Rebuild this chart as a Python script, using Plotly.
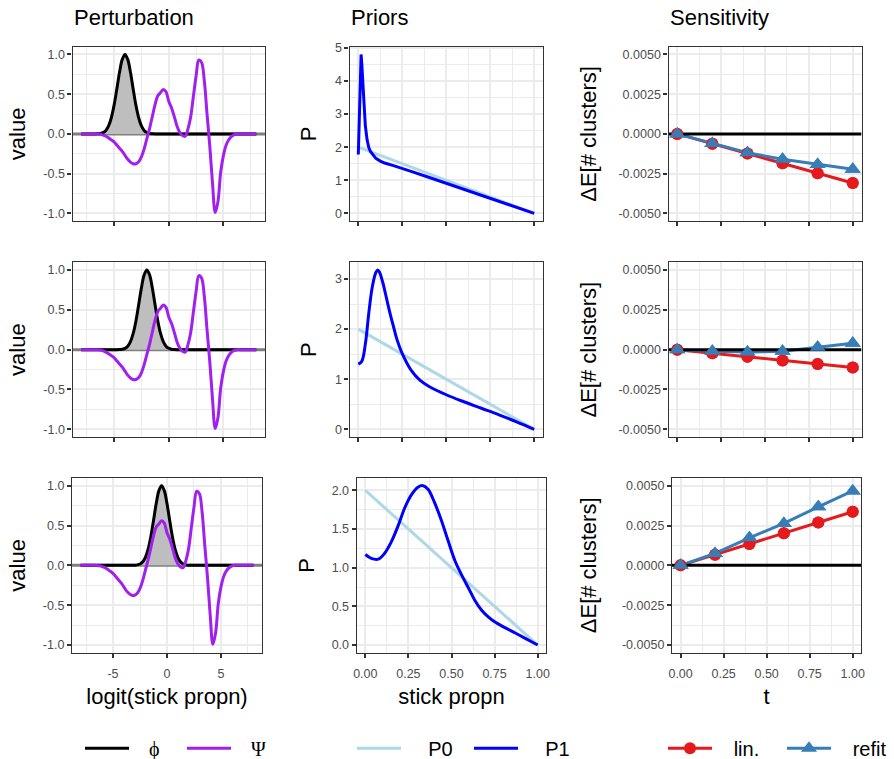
import plotly.graph_objects as go

W, H = 894, 759
FONT = "Liberation Sans, Arial, Helvetica, sans-serif"
SERIF = "Liberation Serif, DejaVu Serif, serif"

# ---------------- data: Perturbation column ----------------
logit_x = [-8.0, -7.75, -7.5, -7.25, -7.0, -6.75, -6.5, -6.25, -6.0, -5.75, -5.5, -5.25,
           -5.0, -4.75, -4.5, -4.25, -4.0, -3.75, -3.5, -3.25, -3.0, -2.75, -2.5, -2.25,
           -2.0, -1.75, -1.5, -1.25, -1.0, -0.75, -0.5, -0.25, 0.0, 0.25, 0.5, 0.75,
           1.0, 1.25, 1.5, 1.75, 2.0, 2.25, 2.5, 2.75, 3.0, 3.25, 3.5, 3.75,
           4.0, 4.25, 4.5, 4.75, 5.0, 5.25, 5.5, 5.75, 6.0, 6.25, 6.5, 6.75,
           7.0, 7.25, 7.5, 7.75, 8.0]
psi = [0, 0, 0, 0, 0, 0, -0.002, -0.006, -0.015, -0.03, -0.05, -0.075,
       -0.10, -0.14, -0.18, -0.22, -0.27, -0.32, -0.355, -0.375, -0.375, -0.35, -0.29, -0.19,
       -0.06, 0.07, 0.22, 0.37, 0.48, 0.52, 0.56, 0.53, 0.41, 0.33, 0.22, 0.10,
       0.02, -0.02, -0.03, 0.06, 0.21, 0.47, 0.73, 0.93, 0.90, 0.67, 0.25, -0.15,
       -0.62, -0.99, -0.85, -0.48, -0.27, -0.14, -0.07, -0.03, -0.01, 0, 0, 0,
       0, 0, 0, 0, 0]
phi_row1 = [0, 0, 0, 0, 0, 0, 0.002, 0.006, 0.017, 0.044, 0.101, 0.203,
            0.360, 0.563, 0.775, 0.938, 1.0, 0.938, 0.775, 0.563, 0.360, 0.203, 0.101, 0.044,
            0.017, 0.006, 0.002, 0, 0, 0, 0, 0, 0, 0, 0, 0,
            0, 0, 0, 0, 0, 0, 0, 0, 0, 0, 0, 0,
            0, 0, 0, 0, 0, 0, 0, 0, 0, 0, 0, 0,
            0, 0, 0, 0, 0]
phi_row2 = [0, 0, 0, 0, 0, 0, 0, 0, 0, 0, 0, 0,
            0, 0, 0.002, 0.006, 0.017, 0.044, 0.101, 0.203, 0.360, 0.563, 0.775, 0.938,
            1.0, 0.938, 0.775, 0.563, 0.360, 0.203, 0.101, 0.044, 0.017, 0.006, 0.002, 0,
            0, 0, 0, 0, 0, 0, 0, 0, 0, 0, 0, 0,
            0, 0, 0, 0, 0, 0, 0, 0, 0, 0, 0, 0,
            0, 0, 0, 0, 0]
phi_row3 = [0, 0, 0, 0, 0, 0, 0, 0, 0, 0, 0, 0,
            0, 0, 0, 0, 0, 0, 0, 0, 0.002, 0.006, 0.017, 0.044,
            0.101, 0.203, 0.360, 0.563, 0.775, 0.938, 1.0, 0.938, 0.775, 0.563, 0.360, 0.203,
            0.101, 0.044, 0.017, 0.006, 0.002, 0, 0, 0, 0, 0, 0, 0,
            0, 0, 0, 0, 0, 0, 0, 0, 0, 0, 0, 0,
            0, 0, 0, 0, 0]

# ---------------- data: Priors column ----------------
p0_x = [0.0, 1.0]
p0 = [2.0, 0.0]
p1_row1_x = [0, 0.005, 0.01, 0.013, 0.016, 0.02, 0.025, 0.03, 0.035, 0.04, 0.05, 0.06,
             0.07, 0.08, 0.1, 0.125, 0.15, 0.2, 0.25, 0.3, 0.4, 0.5, 0.6, 0.7, 0.8, 0.9, 1.0]
p1_row1 = [1.78, 2.8, 4.2, 4.72, 4.8, 4.5, 3.95, 3.45, 3.0, 2.65, 2.22, 1.98,
           1.86, 1.78, 1.66, 1.58, 1.52, 1.44, 1.36, 1.27, 1.09, 0.91, 0.73, 0.55, 0.37, 0.18, 0.0]
p1_row2_x = [0, 0.02, 0.04, 0.06, 0.08, 0.1, 0.11, 0.12, 0.14, 0.16, 0.18, 0.2,
             0.22, 0.25, 0.3, 0.35, 0.4, 0.5, 0.6, 0.7, 0.8, 0.9, 1.0]
p1_row2 = [1.30, 1.36, 1.70, 2.33, 2.85, 3.13, 3.18, 3.14, 2.92, 2.62, 2.32, 2.05,
           1.79, 1.51, 1.18, 0.98, 0.86, 0.69, 0.55, 0.42, 0.29, 0.15, 0.0]
p1_row3_x = [0, 0.035, 0.075, 0.11, 0.15, 0.19, 0.23, 0.27, 0.305, 0.335, 0.365, 0.4,
             0.44, 0.48, 0.52, 0.56, 0.6, 0.635, 0.675, 0.715, 0.75, 0.81, 0.87, 0.925, 1.0]
p1_row3 = [1.17, 1.12, 1.11, 1.18, 1.33, 1.54, 1.78, 1.95, 2.04, 2.06, 2.01, 1.85,
           1.62, 1.35, 1.09, 0.90, 0.73, 0.58, 0.45, 0.36, 0.30, 0.225, 0.155, 0.09, 0.0]

# ---------------- data: Sensitivity column ----------------
t_vals = [0.0, 0.2, 0.4, 0.6, 0.8, 1.0]
lin_row1 = [0, -0.00062, -0.00124, -0.00185, -0.00247, -0.00309]
refit_row1 = [0, -0.0006, -0.00118, -0.0016, -0.00193, -0.00222]
lin_row2 = [0, -0.000225, -0.00045, -0.000675, -0.0009, -0.001125]
refit_row2 = [0, -0.0001, -0.00015, -0.0001, 0.00015, 0.0004]
lin_row3 = [0, 0.00067, 0.00134, 0.00202, 0.00269, 0.00336]
refit_row3 = [0, 0.00075, 0.00173, 0.00263, 0.00367, 0.00467]

# ---------------- labels / ticks ----------------
col_titles = ["Perturbation", "Priors", "Sensitivity"]
pert_x_ticks = [-5, 0, 5]
pert_x_text = ["-5", "0", "5"]
pert_x_minor = [-7.5, -2.5, 2.5, 7.5]
pert_y_ticks = [-1.0, -0.5, 0.0, 0.5, 1.0]
pert_y_text = ["-1.0", "-0.5", "0.0", "0.5", "1.0"]
pert_y_minor = [-0.75, -0.25, 0.25, 0.75]
unit_ticks = [0, 0.25, 0.5, 0.75, 1.0]
unit_text = ["0.00", "0.25", "0.50", "0.75", "1.00"]
unit_minor = [0.125, 0.375, 0.625, 0.875]
p_row1_ticks = [0, 1, 2, 3, 4, 5]
p_row1_text = ["0", "1", "2", "3", "4", "5"]
p_row1_minor = [0.5, 1.5, 2.5, 3.5, 4.5]
p_row2_ticks = [0, 1, 2, 3]
p_row2_text = ["0", "1", "2", "3"]
p_row2_minor = [0.5, 1.5, 2.5]
p_row3_ticks = [0, 0.5, 1.0, 1.5, 2.0]
p_row3_text = ["0.0", "0.5", "1.0", "1.5", "2.0"]
p_row3_minor = [0.25, 0.75, 1.25, 1.75]
sens_y_ticks = [-0.005, -0.0025, 0, 0.0025, 0.005]
sens_y_text = ["-0.0050", "-0.0025", "0.0000", "0.0025", "0.0050"]
sens_y_minor = [-0.00375, -0.00125, 0.00125, 0.00375]

C_PHI, C_PSI, C_FILL, C_HL = "black", "#A020F0", "#BEBEBE", "#7F7F7F"
C_P0, C_P1 = "#ADD8E6", "#0000FF"
C_LIN, C_REFIT = "#E41A1C", "#377EB8"
LW = 3


def expand(lo, hi, f=0.05):
    d = (hi - lo) * f
    return [lo - d, hi + d]


# panel pixel boxes (layout only)
col_px = {(1, 1): (72.5, 265.0), (2, 1): (72.5, 265.0), (3, 1): (72.0, 262.0),
          (1, 2): (349.5, 543.0), (2, 2): (349.5, 543.0), (3, 2): (356.7, 546.3),
          (1, 3): (668.5, 861.5), (2, 3): (668.5, 861.5), (3, 3): (672.0, 861.3)}
row_px = {1: (46.5, 221.3), 2: (262.0, 437.3), 3: (477.7, 653.0)}


def ax_names(k):
    return ("x" if k == 1 else f"x{k}", "y" if k == 1 else f"y{k}")


fig = go.Figure()
layout = {}

phis = [phi_row1, phi_row2, phi_row3]
p1xs = [p1_row1_x, p1_row2_x, p1_row3_x]
p1ys = [p1_row1, p1_row2, p1_row3]
p_ticks = [(p_row1_ticks, p_row1_text, p_row1_minor),
           (p_row2_ticks, p_row2_text, p_row2_minor),
           (p_row3_ticks, p_row3_text, p_row3_minor)]
lins = [lin_row1, lin_row2, lin_row3]
refits = [refit_row1, refit_row2, refit_row3]

pert_xrange = expand(-8, 8)
unit_range = expand(0, 1)

y_standoff = {(1, 1): 11, (2, 1): 11, (3, 1): 11,
              (1, 2): 12, (2, 2): 12, (3, 2): 10,
              (1, 3): 15, (2, 3): 15, (3, 3): 19}


def base_axis(**kw):
    d = dict(showline=True, mirror=True, linecolor="#333333", linewidth=1.3,
             showgrid=True, gridcolor="#EBEBEB", gridwidth=2, zeroline=False,
             ticks="outside", ticklen=4, tickwidth=2, tickcolor="#333333",
             tickfont=dict(family=FONT, size=12.5, color="#4D4D4D"),
             tickmode="array", fixedrange=True)
    d.update(kw)
    return d


def minor(vals):
    return dict(tickvals=vals, showgrid=True, gridcolor="#EBEBEB", gridwidth=1, ticks="")


for r in range(1, 4):
    show_leg = (r == 1)
    # ---- column 1: perturbation ----
    k = (r - 1) * 3 + 1
    xn, yn = ax_names(k)
    fig.add_trace(go.Scatter(x=pert_xrange, y=[0, 0], mode="lines", line=dict(color=C_HL, width=LW),
                             showlegend=False, hoverinfo="skip", xaxis=xn, yaxis=yn))
    fig.add_trace(go.Scatter(x=logit_x, y=phis[r - 1], mode="lines", line=dict(width=0, shape="spline"),
                             fill="tozeroy", fillcolor=C_FILL, showlegend=False, hoverinfo="skip",
                             xaxis=xn, yaxis=yn))
    fig.add_trace(go.Scatter(x=logit_x, y=phis[r - 1], mode="lines", name="\u00a0\u00a0\u00a0ϕ",
                             line=dict(color=C_PHI, width=LW, shape="spline"),
                             showlegend=show_leg, legend="legend", xaxis=xn, yaxis=yn))
    fig.add_trace(go.Scatter(x=logit_x, y=psi, mode="lines", name="\u00a0\u00a0\u00a0Ψ",
                             line=dict(color=C_PSI, width=LW, shape="spline"),
                             showlegend=show_leg, legend="legend", xaxis=xn, yaxis=yn))
    # ---- column 2: priors ----
    k = (r - 1) * 3 + 2
    xn, yn = ax_names(k)
    fig.add_trace(go.Scatter(x=p0_x, y=p0, mode="lines", name="\u00a0\u00a0\u00a0\u00a0P0",
                             line=dict(color=C_P0, width=LW),
                             showlegend=show_leg, legend="legend2", xaxis=xn, yaxis=yn))
    fig.add_trace(go.Scatter(x=p1xs[r - 1], y=p1ys[r - 1], mode="lines", name="\u00a0\u00a0\u00a0\u00a0P1",
                             line=dict(color=C_P1, width=LW, shape="linear" if r == 1 else "spline"),
                             showlegend=show_leg, legend="legend2", xaxis=xn, yaxis=yn))
    # ---- column 3: sensitivity ----
    k = (r - 1) * 3 + 3
    xn, yn = ax_names(k)
    fig.add_trace(go.Scatter(x=t_vals, y=lins[r - 1], mode="lines+markers", name="\u00a0\u00a0\u00a0lin.",
                             line=dict(color=C_LIN, width=LW),
                             marker=dict(symbol="circle", size=12, color=C_LIN),
                             showlegend=show_leg, legend="legend3", xaxis=xn, yaxis=yn))
    fig.add_trace(go.Scatter(x=t_vals, y=refits[r - 1], mode="lines+markers", name="\u00a0\u00a0\u00a0refit",
                             line=dict(color=C_REFIT, width=LW),
                             marker=dict(symbol="triangle-up", size=14, color=C_REFIT),
                             showlegend=show_leg, legend="legend3", xaxis=xn, yaxis=yn))
    fig.add_trace(go.Scatter(x=unit_range, y=[0, 0], mode="lines", line=dict(color="black", width=LW),
                             showlegend=False, hoverinfo="skip", xaxis=xn, yaxis=yn))
    fig.add_trace(go.Scatter(x=t_vals, y=lins[r - 1], mode="markers",
                             marker=dict(symbol="circle", size=12, color=C_LIN),
                             showlegend=False, hoverinfo="skip", xaxis=xn, yaxis=yn))
    fig.add_trace(go.Scatter(x=t_vals, y=refits[r - 1], mode="markers",
                             marker=dict(symbol="triangle-up", size=14, color=C_REFIT),
                             showlegend=False, hoverinfo="skip", xaxis=xn, yaxis=yn))

# ---- axes ----
for r in range(1, 4):
    y0px, y1px = row_px[r]
    ydom = [1 - y1px / H, 1 - y0px / H]
    for c in range(1, 4):
        k = (r - 1) * 3 + c
        xn, yn = ax_names(k)
        x0px, x1px = col_px[(r, c)]
        xdom = [x0px / W, x1px / W]
        xkey = "xaxis" if k == 1 else f"xaxis{k}"
        ykey = "yaxis" if k == 1 else f"yaxis{k}"
        last = (r == 3)
        if c == 1:
            xa = base_axis(range=pert_xrange, tickvals=pert_x_ticks, ticktext=pert_x_text,
                           minor=minor(pert_x_minor))
            ya = base_axis(range=expand(-1, 1), tickvals=pert_y_ticks, ticktext=pert_y_text,
                           minor=minor(pert_y_minor))
            xt, ytitle = "logit(stick propn)", "value"
        elif c == 2:
            tv, tt, tm = p_ticks[r - 1]
            xa = base_axis(range=unit_range, tickvals=unit_ticks, ticktext=unit_text,
                           minor=minor(unit_minor))
            ya = base_axis(range=expand(0, max(p1ys[r - 1])), tickvals=tv, ticktext=tt,
                           minor=minor(tm))
            xt, ytitle = "stick propn", "P"
        else:
            xa = base_axis(range=unit_range, tickvals=unit_ticks, ticktext=unit_text,
                           minor=minor(unit_minor))
            ya = base_axis(range=expand(-0.005, 0.005), tickvals=sens_y_ticks, ticktext=sens_y_text,
                           minor=minor(sens_y_minor))
            xt, ytitle = "t", "ΔE[# clusters]"
        xa.update(domain=xdom, anchor=yn, showticklabels=last)
        if last:
            xa["ticklabelstandoff"] = 5
            xa["title"] = dict(text=xt, font=dict(family=FONT, size=22, color="black"), standoff=8)
        ya.update(domain=ydom, anchor=xn)
        ya["title"] = dict(text=ytitle, font=dict(family=FONT, size=22, color="black"),
                           standoff=y_standoff[(r, c)])
        layout[xkey] = xa
        layout[ykey] = ya

# ---- column titles ----
annotations = []
for title, xpx in zip(col_titles, [72, 349, 668]):
    annotations.append(dict(text=title, x=xpx / W, y=1 - 17.3 / H, xref="paper", yref="paper",
                            xanchor="left", yanchor="middle", showarrow=False,
                            font=dict(family=FONT, size=22, color="black")))

leg_y = 1 - 748.3 / H
common_leg = dict(orientation="h", y=leg_y, xanchor="left", yanchor="middle", itemwidth=44,
                  bgcolor="rgba(0,0,0,0)", borderwidth=0, traceorder="normal",
                  itemclick=False, itemdoubleclick=False)
layout["legend"] = dict(common_leg, x=80 / W, entrywidth=43,
                        font=dict(family=SERIF, size=20, color="black"))
layout["legend2"] = dict(common_leg, x=352 / W, entrywidth=58,
                         font=dict(family=FONT, size=20, color="black"))
layout["legend3"] = dict(common_leg, x=663 / W, entrywidth=60,
                         font=dict(family=FONT, size=20, color="black"))

fig.update_layout(width=W, height=H, margin=dict(l=0, r=0, t=0, b=0, autoexpand=False),
                  paper_bgcolor="white", plot_bgcolor="white",
                  font=dict(family=FONT, color="black"),
                  annotations=annotations, showlegend=True, **layout)

fig.write_html("out.html", config={"displayModeBar": False},
               post_script="document.body.style.margin='0px';")
